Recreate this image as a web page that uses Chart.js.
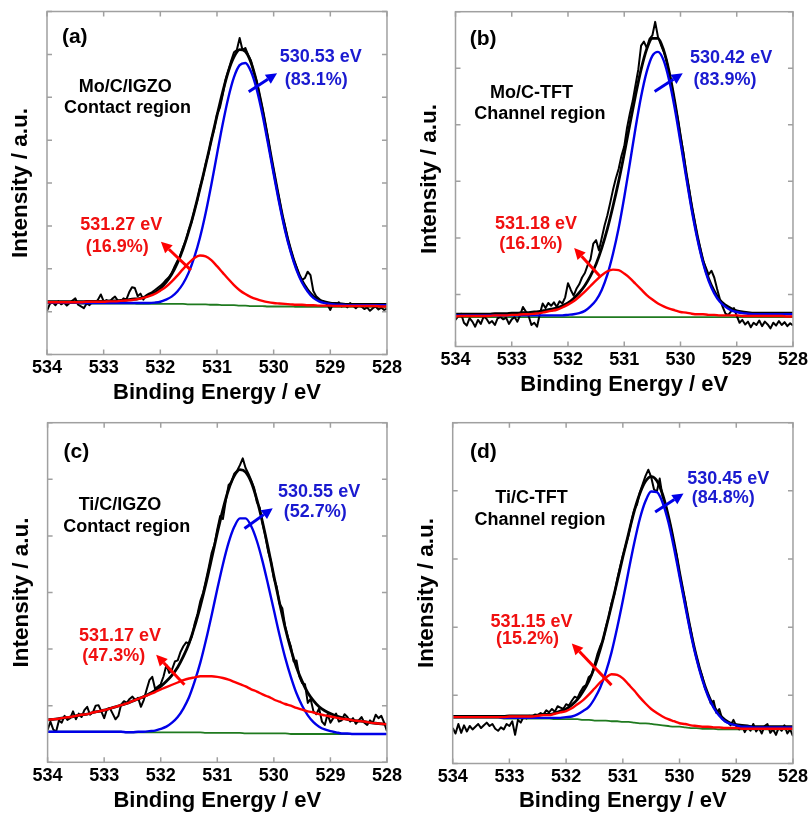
<!DOCTYPE html>
<html>
<head>
<meta charset="utf-8">
<script src="https://cdn.jsdelivr.net/npm/chart.js@4.4.1/dist/chart.umd.min.js"></script>
<style>
  html, body { margin: 0; padding: 0; background: #ffffff; }
  body { width: 811px; height: 814px; position: relative; overflow: hidden; }
  canvas { position: absolute; }
</style>
</head>
<body>
<canvas id="panelA"></canvas>
<canvas id="panelB"></canvas>
<canvas id="panelC"></canvas>
<canvas id="panelD"></canvas>
<script>
// ---------------- O 1s spectra ----------------
// Binding-energy grid of the fitted curves (eV)
const fitEnergy = [
  534.0,533.9,533.8,533.7,533.6,533.5,533.4,533.3,533.2,533.1,
  533.0,532.9,532.8,532.7,532.6,532.5,532.4,532.3,532.2,532.1,
  532.0,531.9,531.8,531.7,531.6,531.5,531.4,531.3,531.2,531.1,
  531.0,530.9,530.8,530.7,530.6,530.5,530.4,530.3,530.2,530.1,
  530.0,529.9,529.8,529.7,529.6,529.5,529.4,529.3,529.2,529.1,
  529.0,528.9,528.8,528.7,528.6,528.5,528.4,528.3,528.2,528.1,
  528.0
];
// Binding-energy grid of the measured spectra (eV)
const rawEnergy = [
  534.00,533.95,533.90,533.85,533.80,533.75,533.70,533.65,533.60,533.55,
  533.50,533.45,533.40,533.35,533.30,533.25,533.20,533.15,533.10,533.05,
  533.00,532.95,532.90,532.85,532.80,532.75,532.70,532.65,532.60,532.55,
  532.50,532.45,532.40,532.35,532.30,532.25,532.20,532.15,532.10,532.05,
  532.00,531.95,531.90,531.85,531.80,531.75,531.70,531.65,531.60,531.55,
  531.50,531.45,531.40,531.35,531.30,531.25,531.20,531.15,531.10,531.05,
  531.00,530.95,530.90,530.85,530.80,530.75,530.70,530.65,530.60,530.55,
  530.50,530.45,530.40,530.35,530.30,530.25,530.20,530.15,530.10,530.05,
  530.00,529.95,529.90,529.85,529.80,529.75,529.70,529.65,529.60,529.55,
  529.50,529.45,529.40,529.35,529.30,529.25,529.20,529.15,529.10,529.05,
  529.00,528.95,528.90,528.85,528.80,528.75,528.70,528.65,528.60,528.55,
  528.50,528.45,528.40,528.35,528.30,528.25,528.20,528.15,528.10,528.05,
  528.00
];
const xTicks = [534, 533, 532, 531, 530, 529, 528];

// ---- (a) Mo/C/IGZO, contact region ----
const peakCentersA = [530.53, 531.27];
const peakSharesA = [83.1, 16.9];
const measuredA = [
  1.02,1.18,1.22,1.15,1.24,1.17,1.21,1.14,1.20,1.26,
  1.31,1.16,1.12,1.08,1.19,1.15,1.23,1.20,1.28,1.40,
  1.24,1.27,1.22,1.30,1.35,1.26,1.24,1.31,1.28,1.45,
  1.57,1.55,1.36,1.42,1.28,1.38,1.42,1.45,1.50,1.55,
  1.60,1.66,1.74,1.80,1.90,2.05,2.18,2.30,2.50,2.66,
  2.90,3.08,3.36,3.58,3.90,4.12,4.45,4.68,5.02,5.25,
  5.60,5.75,6.05,6.40,6.62,6.85,7.05,7.10,7.38,7.10,
  7.15,6.98,6.85,6.58,6.38,6.05,5.75,5.40,5.05,4.62,
  4.30,3.92,3.62,3.25,3.00,2.68,2.45,2.22,2.05,1.85,
  1.74,1.78,1.93,1.85,1.48,1.36,1.30,1.24,1.22,1.16,
  1.04,1.20,1.15,1.22,1.12,1.17,1.10,1.20,1.14,1.08,
  1.15,1.12,1.06,1.10,1.02,1.08,1.12,1.05,1.09,1.04,
  1.07
];
const envelopeA = [
  1.23,1.23,1.23,1.23,1.23,1.23,1.23,1.24,1.24,1.24,
  1.24,1.25,1.25,1.26,1.27,1.29,1.30,1.33,1.38,1.44,
  1.54,1.68,1.87,2.13,2.46,2.87,3.34,3.87,4.42,5.00,
  5.57,6.12,6.60,6.94,7.11,7.07,6.81,6.35,5.73,5.02,
  4.29,3.59,2.96,2.44,2.03,1.72,1.51,1.36,1.27,1.23,
  1.20,1.19,1.18,1.17,1.17,1.17,1.17,1.17,1.17,1.17,
  1.17
];
const latticeA = [
  1.21,1.21,1.21,1.21,1.21,1.21,1.20,1.20,1.20,1.20,
  1.20,1.20,1.20,1.20,1.20,1.20,1.20,1.20,1.20,1.21,
  1.23,1.28,1.35,1.47,1.65,1.91,2.27,2.73,3.30,3.96,
  4.67,5.37,5.99,6.47,6.75,6.80,6.60,6.19,5.61,4.92,
  4.21,3.52,2.90,2.39,1.98,1.68,1.47,1.32,1.24,1.20,
  1.18,1.16,1.16,1.15,1.15,1.15,1.15,1.15,1.15,1.15,
  1.15
];
const vacancyA = [
  1.22,1.22,1.22,1.22,1.22,1.22,1.22,1.23,1.23,1.23,
  1.23,1.24,1.24,1.25,1.26,1.27,1.29,1.32,1.36,1.41,
  1.49,1.58,1.70,1.84,1.99,2.13,2.25,2.31,2.29,2.20,
  2.06,1.91,1.76,1.62,1.50,1.41,1.34,1.29,1.25,1.22,
  1.20,1.19,1.18,1.17,1.16,1.16,1.15,1.15,1.14,1.14,
  1.14,1.13,1.13,1.13,1.13,1.13,1.13,1.13,1.13,1.12,
  1.12
];
const backgroundA = [
  1.20,1.20,1.20,1.20,1.20,1.20,1.19,1.19,1.19,1.19,
  1.19,1.19,1.19,1.19,1.19,1.19,1.18,1.18,1.18,1.18,
  1.18,1.18,1.18,1.18,1.18,1.17,1.17,1.17,1.17,1.16,
  1.16,1.15,1.15,1.15,1.14,1.14,1.13,1.13,1.13,1.12,
  1.12,1.12,1.12,1.12,1.11,1.11,1.11,1.11,1.11,1.11,
  1.11,1.11,1.11,1.11,1.11,1.11,1.11,1.11,1.11,1.11,
  1.11
];

// ---- (b) Mo/C-TFT, channel region ----
const peakCentersB = [530.42, 531.18];
const peakSharesB = [83.9, 16.1];
const measuredB = [
  0.55,0.62,0.66,0.50,0.45,0.58,0.52,0.43,0.55,0.48,
  0.61,0.57,0.49,0.53,0.46,0.58,0.60,0.56,0.59,0.48,
  0.56,0.60,0.52,0.64,0.78,0.70,0.62,0.46,0.50,0.43,
  0.66,0.84,0.76,0.85,0.80,0.86,0.78,0.88,0.84,0.95,
  1.20,1.08,0.98,1.10,1.18,1.30,1.38,1.52,1.62,1.90,
  1.96,1.78,2.00,2.22,2.40,2.62,2.85,3.05,3.22,3.45,
  3.62,3.95,4.20,4.42,4.70,4.98,5.40,5.47,5.36,5.52,
  5.58,5.82,5.55,5.42,5.30,5.15,4.90,4.66,4.38,4.12,
  3.80,3.52,3.15,2.88,2.56,2.30,2.02,1.82,1.60,1.48,
  1.35,1.42,1.30,1.10,0.92,0.78,0.66,0.64,0.70,0.76,
  0.62,0.50,0.55,0.47,0.52,0.42,0.50,0.46,0.54,0.44,
  0.52,0.47,0.40,0.50,0.45,0.53,0.46,0.51,0.44,0.49,
  0.45
];
const envelopeB = [
  0.65,0.65,0.65,0.65,0.65,0.65,0.65,0.66,0.66,0.66,
  0.67,0.67,0.68,0.68,0.69,0.70,0.72,0.74,0.76,0.80,
  0.85,0.93,1.03,1.16,1.33,1.54,1.82,2.16,2.56,3.00,
  3.49,4.01,4.52,4.98,5.34,5.53,5.53,5.32,4.93,4.40,
  3.78,3.15,2.55,2.03,1.60,1.28,1.06,0.90,0.81,0.75,
  0.71,0.69,0.68,0.67,0.67,0.67,0.67,0.67,0.67,0.67,
  0.67
];
const latticeB = [
  0.63,0.63,0.63,0.63,0.63,0.63,0.63,0.63,0.63,0.63,
  0.63,0.63,0.63,0.63,0.63,0.63,0.63,0.63,0.63,0.63,
  0.64,0.65,0.67,0.71,0.79,0.90,1.08,1.35,1.72,2.17,
  2.72,3.32,3.94,4.50,4.94,5.22,5.29,5.14,4.78,4.28,
  3.69,3.08,2.49,1.98,1.56,1.24,1.02,0.87,0.78,0.72,
  0.69,0.67,0.66,0.65,0.65,0.65,0.65,0.65,0.65,0.65,
  0.65
];
const vacancyB = [
  0.61,0.62,0.62,0.62,0.62,0.62,0.62,0.63,0.63,0.63,
  0.64,0.64,0.65,0.65,0.66,0.67,0.69,0.71,0.73,0.77,
  0.82,0.88,0.96,1.05,1.15,1.25,1.34,1.41,1.44,1.43,
  1.37,1.29,1.19,1.09,0.99,0.91,0.84,0.79,0.75,0.72,
  0.69,0.68,0.66,0.65,0.65,0.64,0.64,0.63,0.63,0.63,
  0.63,0.62,0.62,0.62,0.62,0.62,0.62,0.62,0.62,0.61,
  0.61
];
const backgroundB = [
  0.60,0.60,0.60,0.60,0.60,0.60,0.60,0.60,0.60,0.60,
  0.60,0.60,0.60,0.60,0.60,0.60,0.60,0.60,0.60,0.60,
  0.60,0.60,0.60,0.60,0.60,0.60,0.60,0.60,0.60,0.60,
  0.60,0.60,0.60,0.60,0.60,0.60,0.60,0.60,0.60,0.60,
  0.60,0.60,0.60,0.60,0.60,0.60,0.60,0.60,0.60,0.60,
  0.60,0.60,0.60,0.60,0.60,0.60,0.60,0.60,0.60,0.60,
  0.60
];

// ---- (c) Ti/C/IGZO, contact region ----
const peakCentersC = [530.55, 531.17];
const peakSharesC = [52.7, 47.3];
const measuredC = [
  0.57,0.72,0.58,0.54,0.74,0.70,0.82,0.75,0.78,0.90,
  0.76,0.86,0.80,0.92,0.98,0.84,0.88,1.00,1.01,0.90,
  0.78,0.94,0.96,0.86,0.76,0.82,1.02,1.08,1.05,1.12,
  1.16,1.10,1.14,0.98,1.10,1.28,1.45,1.51,1.30,1.34,
  1.38,1.52,1.72,1.58,1.64,1.78,1.80,1.95,2.05,2.12,
  2.10,2.22,2.45,2.62,2.85,3.00,3.22,3.45,3.70,3.85,
  4.12,4.35,4.30,4.62,4.90,4.95,5.10,5.15,5.25,5.37,
  5.20,5.10,4.98,4.85,4.60,4.50,4.22,4.00,3.72,3.55,
  3.25,3.10,2.80,2.72,2.40,2.20,2.05,1.78,1.80,1.52,
  1.40,1.38,1.05,1.12,0.90,0.85,0.95,0.72,0.66,0.85,
  0.70,0.78,0.86,0.72,0.74,0.85,0.80,0.72,0.78,0.68,
  0.74,0.80,0.70,0.66,0.74,0.70,0.84,0.78,0.82,0.70,
  0.55
];
const envelopeC = [
  0.75,0.76,0.77,0.79,0.80,0.82,0.84,0.85,0.88,0.90,
  0.92,0.95,0.98,1.01,1.04,1.08,1.12,1.16,1.21,1.27,
  1.34,1.43,1.54,1.68,1.87,2.10,2.40,2.76,3.16,3.60,
  4.05,4.47,4.82,5.06,5.17,5.13,4.95,4.64,4.24,3.78,
  3.29,2.82,2.38,2.00,1.68,1.43,1.23,1.09,0.98,0.91,
  0.86,0.82,0.79,0.76,0.74,0.73,0.72,0.70,0.69,0.68,
  0.67
];
const latticeC = [
  0.54,0.54,0.54,0.54,0.54,0.54,0.54,0.54,0.54,0.54,
  0.54,0.54,0.54,0.54,0.53,0.53,0.54,0.54,0.55,0.56,
  0.59,0.63,0.70,0.80,0.95,1.15,1.43,1.76,2.16,2.60,
  3.06,3.50,3.88,4.16,4.31,4.31,4.17,3.91,3.55,3.13,
  2.69,2.25,1.85,1.51,1.22,1.00,0.83,0.71,0.63,0.58,
  0.55,0.53,0.51,0.51,0.50,0.50,0.50,0.50,0.50,0.50,
  0.50
];
const vacancyC = [
  0.75,0.76,0.77,0.79,0.80,0.82,0.84,0.85,0.88,0.90,
  0.92,0.95,0.98,1.01,1.04,1.08,1.12,1.16,1.20,1.24,
  1.29,1.33,1.37,1.41,1.45,1.48,1.50,1.52,1.52,1.52,
  1.51,1.49,1.46,1.42,1.38,1.34,1.29,1.25,1.20,1.16,
  1.11,1.07,1.03,1.00,0.96,0.93,0.90,0.88,0.85,0.83,
  0.81,0.79,0.77,0.76,0.74,0.73,0.72,0.70,0.69,0.68,
  0.67
];
const backgroundC = [
  0.54,0.54,0.54,0.54,0.54,0.54,0.54,0.54,0.54,0.54,
  0.54,0.54,0.54,0.54,0.53,0.53,0.53,0.53,0.53,0.53,
  0.53,0.53,0.53,0.53,0.53,0.53,0.53,0.53,0.52,0.52,
  0.52,0.52,0.52,0.52,0.52,0.51,0.51,0.51,0.51,0.51,
  0.51,0.51,0.51,0.50,0.50,0.50,0.50,0.50,0.50,0.50,
  0.50,0.50,0.50,0.50,0.50,0.50,0.50,0.50,0.50,0.50,
  0.50
];

// ---- (d) Ti/C-TFT, channel region ----
const peakCentersD = [530.45, 531.15];
const peakSharesD = [84.8, 15.2];
const measuredD = [
  0.52,0.44,0.58,0.45,0.56,0.47,0.55,0.50,0.54,0.58,
  0.52,0.56,0.60,0.55,0.58,0.51,0.48,0.53,0.50,0.58,
  0.55,0.62,0.42,0.64,0.60,0.69,0.66,0.70,0.68,0.72,
  0.71,0.74,0.72,0.78,0.75,0.80,0.76,0.84,0.82,0.80,
  0.87,0.85,0.92,0.98,0.96,1.05,1.12,1.15,1.27,1.30,
  1.45,1.60,1.72,1.80,2.00,2.15,2.35,2.48,2.70,2.88,
  3.05,3.20,3.35,3.55,3.72,3.80,3.98,4.10,4.22,4.31,
  4.20,4.02,3.99,4.18,3.92,3.80,3.62,3.45,3.22,3.05,
  2.78,2.58,2.38,2.12,1.95,1.72,1.56,1.40,1.28,1.10,
  1.02,0.88,0.92,0.74,0.80,0.66,0.62,0.60,0.56,0.64,
  0.55,0.50,0.56,0.46,0.54,0.48,0.58,0.47,0.52,0.44,
  0.55,0.58,0.45,0.50,0.42,0.53,0.48,0.56,0.44,0.50,
  0.40
];
const envelopeD = [
  0.69,0.69,0.69,0.69,0.69,0.69,0.69,0.69,0.69,0.69,
  0.70,0.70,0.70,0.70,0.70,0.71,0.72,0.72,0.74,0.77,
  0.80,0.86,0.94,1.06,1.21,1.41,1.67,1.98,2.32,2.67,
  3.03,3.37,3.70,3.96,4.14,4.21,4.15,3.95,3.64,3.25,
  2.80,2.36,1.93,1.56,1.26,1.02,0.84,0.72,0.64,0.59,
  0.57,0.56,0.55,0.54,0.54,0.54,0.54,0.54,0.54,0.54,
  0.54
];
const latticeD = [
  0.68,0.68,0.68,0.68,0.68,0.68,0.68,0.68,0.68,0.67,
  0.67,0.67,0.67,0.67,0.67,0.67,0.67,0.67,0.67,0.67,
  0.68,0.69,0.72,0.77,0.83,0.95,1.11,1.34,1.63,1.99,
  2.39,2.82,3.23,3.59,3.85,3.99,3.98,3.83,3.55,3.17,
  2.74,2.31,1.89,1.53,1.23,0.99,0.82,0.70,0.62,0.58,
  0.56,0.54,0.54,0.53,0.53,0.53,0.53,0.53,0.53,0.53,
  0.53
];
const vacancyD = [
  0.68,0.68,0.68,0.68,0.68,0.68,0.68,0.68,0.68,0.68,
  0.69,0.69,0.69,0.69,0.69,0.70,0.71,0.71,0.73,0.75,
  0.77,0.81,0.87,0.93,1.01,1.10,1.19,1.26,1.31,1.30,
  1.25,1.16,1.07,0.97,0.88,0.80,0.74,0.69,0.65,0.62,
  0.59,0.58,0.56,0.55,0.54,0.54,0.53,0.53,0.52,0.52,
  0.52,0.51,0.51,0.51,0.51,0.51,0.51,0.51,0.51,0.51,
  0.51
];
const backgroundD = [
  0.67,0.67,0.67,0.67,0.67,0.67,0.67,0.67,0.67,0.66,
  0.66,0.66,0.66,0.66,0.66,0.66,0.66,0.66,0.65,0.65,
  0.65,0.65,0.65,0.64,0.64,0.63,0.63,0.63,0.62,0.62,
  0.61,0.61,0.60,0.59,0.59,0.58,0.57,0.56,0.55,0.54,
  0.54,0.53,0.52,0.52,0.51,0.51,0.51,0.50,0.50,0.50,
  0.50,0.50,0.50,0.50,0.50,0.50,0.50,0.50,0.50,0.50,
  0.50
];

// ---------------- styling ----------------
const FONT = '"Liberation Sans", Arial, Helvetica, sans-serif';
const LINE_BLUE = '#0000e8';
const LINE_RED = '#ff0000';
const LINE_GREEN = '#1f7a1f';
const TEXT_BLUE = '#1a1ad0';
const TEXT_RED = '#f01010';
const FRAME = '#a0a0a0';

// Frame box with inward tick marks on all four sides
const frameTicks = {
  id: 'frameTicks',
  afterDatasetsDraw(chart) {
    const { ctx, chartArea: a, scales: { x, y } } = chart;
    ctx.save();
    ctx.strokeStyle = FRAME;
    ctx.lineWidth = 1.5;
    ctx.strokeRect(a.left, a.top, a.right - a.left, a.bottom - a.top);
    ctx.beginPath();
    x.ticks.forEach(t => {
      const px = x.getPixelForValue(t.value);
      ctx.moveTo(px, a.top); ctx.lineTo(px, a.top + 5);
      ctx.moveTo(px, a.bottom); ctx.lineTo(px, a.bottom - 5);
    });
    y.ticks.forEach(t => {
      if (Math.abs(t.value - Math.round(t.value)) > 1e-6) return;
      const py = y.getPixelForValue(t.value);
      ctx.moveTo(a.left, py); ctx.lineTo(a.left + 5, py);
      ctx.moveTo(a.right, py); ctx.lineTo(a.right - 5, py);
    });
    ctx.stroke();
    ctx.restore();
  }
};

// Panel letter, sample name and peak labels with arrows
function notesPlugin(notes) {
  return {
    id: 'peakNotes',
    afterDatasetsDraw(chart) {
      const { ctx, scales: { x, y } } = chart;
      ctx.save();
      ctx.textAlign = 'center';
      ctx.textBaseline = 'middle';
      notes.texts.forEach(n => {
        ctx.font = `bold ${n.size}px ${FONT}`;
        ctx.fillStyle = n.color;
        ctx.fillText(n.text, x.getPixelForValue(n.e), y.getPixelForValue(n.v));
      });
      notes.arrows.forEach(ar => {
        const x0 = x.getPixelForValue(ar.from[0]), y0 = y.getPixelForValue(ar.from[1]);
        const x1 = x.getPixelForValue(ar.to[0]), y1 = y.getPixelForValue(ar.to[1]);
        const ang = Math.atan2(y1 - y0, x1 - x0);
        const head = 11, half = 5.5;
        const bx = x1 - head * Math.cos(ang), by = y1 - head * Math.sin(ang);
        ctx.strokeStyle = ar.color;
        ctx.fillStyle = ar.color;
        ctx.lineWidth = 3;
        ctx.lineCap = 'butt';
        ctx.beginPath();
        ctx.moveTo(x0, y0);
        ctx.lineTo(bx, by);
        ctx.stroke();
        ctx.beginPath();
        ctx.moveTo(x1, y1);
        ctx.lineTo(bx + half * Math.sin(ang), by - half * Math.cos(ang));
        ctx.lineTo(bx - half * Math.sin(ang), by + half * Math.cos(ang));
        ctx.closePath();
        ctx.fill();
      });
      ctx.restore();
    }
  };
}

function pairs(xs, ys) {
  return xs.map((e, i) => ({ x: e, y: ys[i] }));
}

function buildPanel(p) {
  const canvas = document.getElementById(p.id);
  canvas.width = p.box.w;
  canvas.height = p.box.h;
  canvas.style.left = p.box.x + 'px';
  canvas.style.top = p.box.y + 'px';
  canvas.style.width = p.box.w + 'px';
  canvas.style.height = p.box.h + 'px';
  const area = p.area;
  const axisH = Math.min(51.5, p.box.h - area.bottom);

  const [cLattice, cVacancy] = p.centers;
  const [sLattice, sVacancy] = p.shares;
  const notes = {
    texts: [
      { text: p.letter, e: p.pos.letter[0], v: p.pos.letter[1], color: '#000', size: 21 },
      { text: p.sample, e: p.pos.sample[0], v: p.pos.sample[1], color: '#000', size: 18 },
      { text: p.region, e: p.pos.region[0], v: p.pos.region[1], color: '#000', size: 18 },
      { text: cLattice.toFixed(2) + ' eV', e: p.pos.latE[0], v: p.pos.latE[1], color: TEXT_BLUE, size: 18 },
      { text: '(' + sLattice.toFixed(1) + '%)', e: p.pos.latS[0], v: p.pos.latS[1], color: TEXT_BLUE, size: 18 },
      { text: cVacancy.toFixed(2) + ' eV', e: p.pos.vacE[0], v: p.pos.vacE[1], color: TEXT_RED, size: 18 },
      { text: '(' + sVacancy.toFixed(1) + '%)', e: p.pos.vacS[0], v: p.pos.vacS[1], color: TEXT_RED, size: 18 }
    ],
    arrows: [
      { from: p.pos.latArrow[0], to: p.pos.latArrow[1], color: LINE_BLUE },
      { from: p.pos.vacArrow[0], to: p.pos.vacArrow[1], color: LINE_RED }
    ]
  };

  new Chart(canvas, {
    type: 'line',
    data: {
      datasets: [
        { label: 'O 1s ' + cVacancy + ' eV', data: pairs(fitEnergy, p.vacancy), borderColor: LINE_RED, borderWidth: 2.4 },
        { label: 'O 1s ' + cLattice + ' eV', data: pairs(fitEnergy, p.lattice), borderColor: LINE_BLUE, borderWidth: 2.4 },
        { label: 'Fit envelope', data: pairs(fitEnergy, p.envelope), borderColor: '#000000', borderWidth: 2.8 },
        { label: 'Measured', data: pairs(rawEnergy, p.measured), borderColor: '#000000', borderWidth: 2,
          cubicInterpolationMode: 'default', tension: 0 },
        { label: 'Background', data: pairs(fitEnergy, p.background), borderColor: LINE_GREEN, borderWidth: 1.8 }
      ]
    },
    options: {
      responsive: false,
      animation: false,
      devicePixelRatio: 1,
      layout: {
        padding: {
          left: 0,
          top: area.top,
          right: p.box.w - area.right,
          bottom: Math.max(0, p.box.h - area.bottom - axisH)
        }
      },
      elements: {
        point: { radius: 0, hoverRadius: 0 },
        line: { cubicInterpolationMode: 'monotone', fill: false, borderJoinStyle: 'round' }
      },
      plugins: { legend: { display: false }, tooltip: { enabled: false } },
      events: [],
      scales: {
        x: {
          type: 'linear',
          reverse: true,
          min: 528,
          max: 534,
          afterBuildTicks(s) { s.ticks = xTicks.map(v => ({ value: v })); },
          ticks: {
            color: '#000000',
            font: { family: FONT, size: 18, weight: 'bold' },
            padding: 3,
            maxRotation: 0,
            autoSkip: false,
            callback: v => String(v)
          },
          grid: { display: false, drawTicks: false },
          border: { display: false },
          title: {
            display: true,
            text: 'Binding Energy / eV',
            color: '#000000',
            font: { family: FONT, size: 22, weight: 'bold' },
            padding: { top: 0, bottom: 0 }
          },
          afterFit(s) { s.height = axisH; }
        },
        y: {
          type: 'linear',
          min: p.yMin,
          max: p.yMax,
          ticks: { display: false, stepSize: 1 },
          grid: { display: false, drawTicks: false },
          border: { display: false },
          title: {
            display: true,
            text: 'Intensity / a.u.',
            color: '#000000',
            font: { family: FONT, size: 22.5, weight: 'bold' },
            padding: { top: area.left - 26 - 13.5, bottom: 0 }
          },
          afterFit(s) { s.width = area.left; }
        }
      }
    },
    plugins: [frameTicks, notesPlugin(notes)]
  });
}

buildPanel({
  id: 'panelA', letter: '(a)', sample: 'Mo/C/IGZO', region: 'Contact region',
  box: { x: 0, y: 0, w: 405, h: 410 },
  area: { left: 47, top: 11.5, right: 389, bottom: 354.5 },
  yMin: 0, yMax: 8,
  centers: peakCentersA, shares: peakSharesA,
  measured: measuredA, envelope: envelopeA, lattice: latticeA, vacancy: vacancyA, background: backgroundA,
  pos: {
    letter: [533.51, 7.40], sample: [532.62, 6.25], region: [532.58, 5.74],
    latE: [529.17, 6.93], latS: [529.25, 6.41], vacE: [532.69, 3.01], vacS: [532.76, 2.51],
    latArrow: [[530.44, 6.13], [529.94, 6.56]], vacArrow: [[531.46, 1.97], [531.99, 2.63]]
  }
});

buildPanel({
  id: 'panelB', letter: '(b)', sample: 'Mo/C-TFT', region: 'Channel region',
  box: { x: 405, y: 0, w: 406, h: 410 },
  area: { left: 50.5, top: 11.7, right: 390.5, bottom: 346.5 },
  yMin: 0.08, yMax: 6,
  centers: peakCentersB, shares: peakSharesB,
  measured: measuredB, envelope: envelopeB, lattice: latticeB, vacancy: vacancyB, background: backgroundB,
  pos: {
    letter: [533.51, 5.51], sample: [532.65, 4.57], region: [532.50, 4.19],
    latE: [529.10, 5.18], latS: [529.21, 4.80], vacE: [532.57, 2.25], vacS: [532.66, 1.89],
    latArrow: [[530.46, 4.59], [529.96, 4.91]], vacArrow: [[531.42, 1.31], [531.89, 1.82]]
  }
});

buildPanel({
  id: 'panelC', letter: '(c)', sample: 'Ti/C/IGZO', region: 'Contact region',
  box: { x: 0, y: 408, w: 405, h: 406 },
  area: { left: 47.6, top: 14.7, right: 387.5, bottom: 354.3 },
  yMin: 0, yMax: 6,
  centers: peakCentersC, shares: peakSharesC,
  measured: measuredC, envelope: envelopeC, lattice: latticeC, vacancy: vacancyC, background: backgroundC,
  pos: {
    letter: [533.49, 5.48], sample: [532.72, 4.55], region: [532.60, 4.16],
    latE: [529.20, 4.78], latS: [529.27, 4.42], vacE: [532.72, 2.23], vacS: [532.83, 1.87],
    latArrow: [[530.52, 4.13], [530.02, 4.49]], vacArrow: [[531.58, 1.37], [532.08, 1.90]]
  }
});

buildPanel({
  id: 'panelD', letter: '(d)', sample: 'Ti/C-TFT', region: 'Channel region',
  box: { x: 405, y: 408, w: 406, h: 406 },
  area: { left: 47.7, top: 14.7, right: 388, bottom: 355.5 },
  yMin: 0, yMax: 5,
  centers: peakCentersD, shares: peakSharesD,
  measured: measuredD, envelope: envelopeD, lattice: latticeD, vacancy: vacancyD, background: backgroundD,
  pos: {
    letter: [533.46, 4.57], sample: [532.61, 3.89], region: [532.46, 3.57],
    latE: [529.14, 4.17], latS: [529.23, 3.90], vacE: [532.61, 2.07], vacS: [532.68, 1.82],
    latArrow: [[530.43, 3.69], [529.93, 3.96]], vacArrow: [[531.20, 1.15], [531.90, 1.76]]
  }
});
</script>
</body>
</html>
